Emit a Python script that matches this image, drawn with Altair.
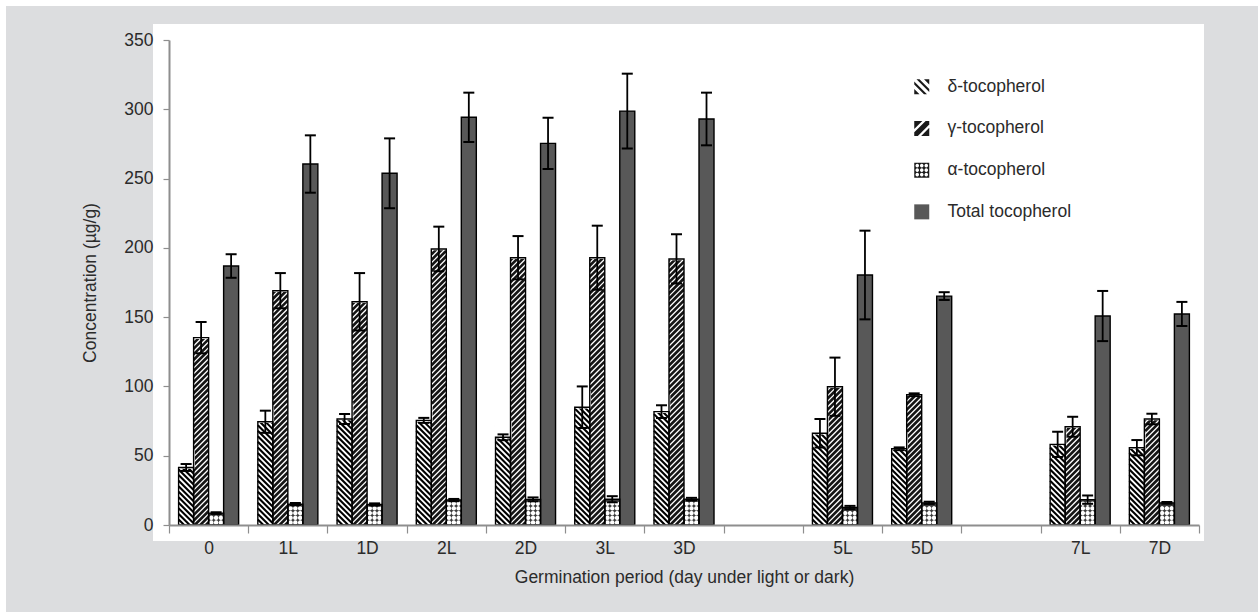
import math
import altair as alt
import pandas as pd

# ---------------- data ----------------
periods = ["0", "1L", "1D", "2L", "2D", "3L", "3D", "5L", "5D", "7L", "7D"]
axis_slots = ["0", "1L", "1D", "2L", "2D", "3L", "3D", "gap-4", "5L", "5D", "gap-6", "7L", "7D"]
series_names = ["δ-tocopherol", "γ-tocopherol", "α-tocopherol", "Total tocopherol"]

delta = [41.5, 74.5, 76.5, 75.5, 63.3, 85.0, 81.8, 66.2, 55.0, 58.2, 55.8]
delta_err = [2.5, 8.0, 3.6, 1.8, 2.1, 15.0, 4.6, 10.3, 1.0, 9.1, 5.5]
gamma = [135.2, 169.1, 161.1, 199.2, 192.9, 192.9, 192.0, 99.8, 94.0, 70.9, 76.5]
gamma_err = [11.3, 12.7, 20.7, 16.1, 15.6, 23.1, 17.8, 21.0, 1.0, 7.2, 3.8]
alpha = [8.6, 15.0, 14.8, 18.0, 18.5, 18.6, 18.6, 12.6, 16.0, 18.3, 16.0]
alpha_err = [0.6, 0.8, 0.8, 0.8, 1.4, 2.2, 1.0, 1.2, 0.8, 3.0, 0.6]
total = [186.9, 260.5, 253.8, 294.2, 275.4, 298.7, 293.0, 180.4, 165.2, 150.8, 152.3]
total_err = [8.5, 20.7, 25.2, 17.8, 18.5, 27.0, 19.0, 32.0, 2.8, 18.1, 8.7]

y_ticks = [0, 50, 100, 150, 200, 250, 300, 350]

rows = []
for s, vals, errs in zip(series_names, [delta, gamma, alpha, total],
                         [delta_err, gamma_err, alpha_err, total_err]):
    for p, v, e in zip(periods, vals, errs):
        rows.append({"period": p, "series": s, "value": v, "err": e})
df = pd.DataFrame(rows)

# ---------------- styling ----------------
FONT = "Liberation Sans Narrow, Arial Narrow, Liberation Sans, Arial, sans-serif"
FS = 17.5
TXT = "#2b2b2b"
AX = "#8e8e8e"
W, H = 1030, 485
bar_fill = dict(zip(series_names, ["white", "#151515", "#3a3a3a", "#585858"]))

# legend symbol paths (hatch patterns drawn as shapes with holes)
def _clip(poly):
    def clip_edge(pts, inside, inter):
        out = []
        for i in range(len(pts)):
            cur, prev = pts[i], pts[i - 1]
            if inside(cur):
                if not inside(prev):
                    out.append(inter(prev, cur))
                out.append(cur)
            elif inside(prev):
                out.append(inter(prev, cur))
        return out

    def ix(xv):
        return lambda p, q: (xv, p[1] + (q[1] - p[1]) * (xv - p[0]) / (q[0] - p[0]))

    def iy(yv):
        return lambda p, q: (p[0] + (q[0] - p[0]) * (yv - p[1]) / (q[1] - p[1]), yv)

    pts = list(poly)
    pts = clip_edge(pts, lambda p: p[0] >= -1, ix(-1))
    pts = clip_edge(pts, lambda p: p[0] <= 1, ix(1))
    pts = clip_edge(pts, lambda p: p[1] >= -1, iy(-1))
    pts = clip_edge(pts, lambda p: p[1] <= 1, iy(1))
    return pts


def _area(pts):
    return sum(pts[i - 1][0] * pts[i][1] - pts[i][0] * pts[i - 1][1] for i in range(len(pts))) / 2


def _path(pts):
    return "M" + "L".join(f"{x:.3f},{y:.3f}" for x, y in pts) + "Z"


def _hole(pts):
    if _area(pts) > 0:
        pts = pts[::-1]
    return _path(pts)


SQUARE = _path([(-1, -1), (1, -1), (1, 1), (-1, 1)])


def hatch_symbol(direction, offsets, w):
    parts = [SQUARE]
    for c in offsets:
        if direction == "back":  # "\" lines: x - y = c
            poly = [((c - w) / 2 - 3, -(c - w) / 2 - 3), ((c - w) / 2 + 3, -(c - w) / 2 + 3),
                    ((c + w) / 2 + 3, -(c + w) / 2 + 3), ((c + w) / 2 - 3, -(c + w) / 2 - 3)]
        else:  # "/" lines: x + y = c
            poly = [((c - w) / 2 - 3, (c - w) / 2 + 3), ((c - w) / 2 + 3, (c - w) / 2 - 3),
                    ((c + w) / 2 + 3, (c + w) / 2 - 3), ((c + w) / 2 - 3, (c + w) / 2 + 3)]
        parts.append(_hole(_clip(poly)))
    return "".join(parts)


def circle_poly(cx, cy, r, n=12):
    return [(cx + r * math.cos(2 * math.pi * i / n), cy + r * math.sin(2 * math.pi * i / n))
            for i in range(n)]


def dots_symbol(r):
    parts = [SQUARE]
    for cx in (-0.6, 0, 0.6):
        for cy in (-0.6, 0, 0.6):
            parts.append(_hole(circle_poly(cx, cy, r)))
    return "".join(parts)


legend_shapes = [
    hatch_symbol("back", [-1.0, 0.0, 1.0], 0.3),
    hatch_symbol("fwd", [-0.7, 0.7], 0.22),
    dots_symbol(0.24),
    SQUARE,
]

# a row of three dots (used as texture inside the alpha bars)
DOT_ROW = "".join(_path(circle_poly(cx, 0, 0.3)) for cx in (-0.64, 0.0, 0.64))

# ---------------- shared encodings ----------------
x_scale = alt.Scale(domain=axis_slots, paddingInner=0, paddingOuter=0)
x_axis = alt.Axis(
    title="Germination period (day under light or dark)",
    tickBand="extent", labelAngle=0,
    labelExpr="indexof(datum.label, 'gap') >= 0 ? '' : datum.label",
    domainColor=AX, domainWidth=2, tickColor=AX, tickWidth=1.2, tickSize=8,
    labelFont=FONT, labelFontSize=FS, labelColor=TXT, labelPadding=6,
    titleFont=FONT, titleFontSize=FS, titleFontWeight="normal", titleColor=TXT, titlePadding=12,
    grid=False, zindex=2,
)
y_scale = alt.Scale(domain=[0, 350], nice=False, zero=True)
y_axis = alt.Axis(
    title="Concentration (µg/g)", values=y_ticks, grid=False,
    domainColor=AX, domainWidth=2, tickColor=AX, tickWidth=1.2, tickSize=6,
    labelFont=FONT, labelFontSize=FS, labelColor=TXT, labelPadding=10,
    titleFont=FONT, titleFontSize=FS, titleFontWeight="normal", titleColor=TXT, titlePadding=24,
    zindex=2,
)
X = alt.X("period:N", scale=x_scale, axis=x_axis)
XO = alt.XOffset("series:N", scale=alt.Scale(domain=series_names, paddingInner=0, paddingOuter=0.64))


def Y(field):
    return alt.Y(f"{field}:Q", scale=y_scale, axis=y_axis)


base = alt.Chart(df)
one = alt.Chart(pd.DataFrame({"d": [0]}))

# decorative frame: grey page and white panel
bg = one.mark_rect(color="#dcdddf").encode(
    x=alt.value(-163), x2=alt.value(1089), y=alt.value(-34), y2=alt.value(572))
panel = one.mark_rect(color="white").encode(
    x=alt.value(-16), x2=alt.value(1035), y=alt.value(-16), y2=alt.value(501))

fill_expr = " : ".join(f"datum.series == '{s}' ? '{c}'" for s, c in bar_fill.items()) + " : 'gray'"
fills = base.transform_calculate(fc=fill_expr).mark_bar(strokeWidth=0).encode(
    x=X, xOffset=XO, y=Y("value"),
    fill=alt.Fill("fc:N", scale=None),
)

STEP = 4.0
delta_stripes = base.transform_filter(alt.datum.series == series_names[0]).transform_calculate(
    k=f"sequence(-5.4, datum.value + 5.4, {STEP})").transform_flatten(["k"]).mark_point(
    shape="M-1,-1L1,1", size=225, filled=False, color="black", strokeWidth=2.1,
    opacity=1, clip=True).encode(x=X, xOffset=XO, y=Y("k"))

gamma_stripes = base.transform_filter(alt.datum.series == series_names[1]).transform_calculate(
    k=f"sequence(-5.4, datum.value + 5.4, {STEP})").transform_flatten(["k"]).mark_point(
    shape="M-1,1L1,-1", size=225, filled=False, color="white", strokeWidth=1.3,
    opacity=1, clip=True).encode(x=X, xOffset=XO, y=Y("k"))

alpha_dots = base.transform_filter(alt.datum.series == series_names[2]).transform_calculate(
    k="sequence(1.8, datum.value - 1.2, 3.4)").transform_flatten(["k"]).mark_point(
    shape=DOT_ROW, size=225, filled=True, color="white", strokeWidth=0, opacity=1).encode(
    x=X, xOffset=XO, y=Y("k"))

covers = base.transform_filter(
    (alt.datum.series == series_names[0]) | (alt.datum.series == series_names[1])
).transform_calculate(top="datum.value + 11").mark_bar(
    color="white", stroke="white", strokeWidth=2.5).encode(
    x=X, xOffset=XO, y=Y("value"), y2="top:Q")

outlines = base.mark_bar(fill="white", fillOpacity=0, stroke="black", strokeWidth=1.4).encode(
    x=X, xOffset=XO, y=Y("value"))

err = base.transform_calculate(lo="datum.value - datum.err", hi="datum.value + datum.err")
err_rule = err.mark_rule(color="black", strokeWidth=1.8).encode(x=X, xOffset=XO, y=Y("lo"), y2="hi:Q")
cap_hi = err.mark_tick(color="black", thickness=2, size=11, opacity=1).encode(x=X, xOffset=XO, y=Y("hi"))
cap_lo = err.mark_tick(color="black", thickness=2, size=11, opacity=1).encode(x=X, xOffset=XO, y=Y("lo"))

leg = alt.Legend(
    title=None, orient="none", legendX=744, legendY=38, padding=0, zindex=3,
    symbolSize=225, symbolStrokeColor="black", symbolStrokeWidth=0.8, symbolOpacity=1,
    labelFont=FONT, labelFontSize=FS, labelColor=TXT, labelOffset=17, rowPadding=22.7,
)
legend_layer = base.mark_point(filled=True, opacity=0).encode(
    x=X, xOffset=XO, y=Y("value"),
    color=alt.Color("series:N", sort=series_names,
                    scale=alt.Scale(domain=series_names,
                                    range=["#1a1a1a", "#1a1a1a", "#1a1a1a", "#585858"]),
                    legend=leg),
    shape=alt.Shape("series:N", sort=series_names,
                    scale=alt.Scale(domain=series_names, range=legend_shapes), legend=leg),
)

chart = alt.layer(
    bg, panel, fills, delta_stripes, gamma_stripes, alpha_dots, covers, outlines,
    err_rule, cap_hi, cap_lo, legend_layer,
).properties(
    width=W, height=H,
    padding={"left": 6, "top": 6, "right": 1, "bottom": 1},
    background="white",
).configure_view(stroke=None).configure(font=FONT).configure_legend(zindex=3)

chart.save("out.html", embed_options={"renderer": "svg", "actions": False})
